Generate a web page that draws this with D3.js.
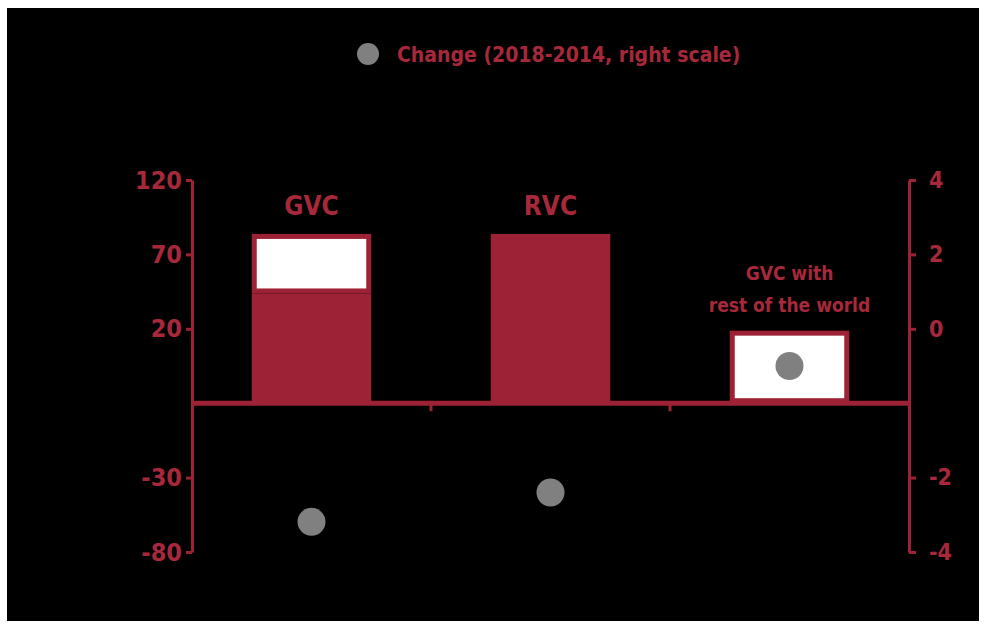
<!DOCTYPE html>
<html>
<head>
<meta charset="utf-8">
<script src="https://cdn.jsdelivr.net/npm/d3@7"></script>
<style>
    body { margin: 0; background: #fff; }
    svg text { font-family: "DejaVu Sans Condensed", "DejaVu Sans", sans-serif; font-weight: bold; }
</style>
</head>
<body>
<div id="chart"></div>
<script>
// chart values
const categories = ["GVC", "RVC", "GVC with|rest of the world"];
const barLower = [59, 91, 0];      // solid red part
const barUpper = [32, 0, 39];      // white part with red outline
const change = [-3.35, -2.72, 0.0]; // right scale
const leftTickLabels = ["120", "70", "20", "-30", "-80"];
const rightTickLabels = ["4", "2", "0", "-2", "-4"];
const legendLabel = "Change (2018-2014, right scale)";

var state = {
    width: 986,
    height: 628,
    red: '#9e2235',
    textRed: '#a8283b',
    dotColor: '#808080',
    left: 192,
    right: 909,
    top: 180,
    bottom: 552
};

let svg = d3.select('#chart')
    .append('svg')
        .attr('width', state.width)
        .attr('height', state.height);

//black panel with the white frame round it
svg.append('rect')
    .attr('x', 7)
    .attr('y', 8)
    .attr('width', 972)
    .attr('height', 613)
    .attr('fill', '#000');

let x = d3.scaleBand()
    .domain(categories)
    .range([state.left, state.right])
    .paddingInner(0.5)
    .paddingOuter(0.25);

let yLeft = d3.scaleLinear().domain([-80, 120]).range([state.bottom, state.top]);
let yRight = d3.scaleLinear().domain([-4, 4]).range([state.bottom, state.top]);

/**
Tick slots split the axis in five equal steps; the slot on the baseline carries no label.
*/
function tickSlots(scale){
    let dom = scale.domain();
    let step = (dom[1] - dom[0]) / 5;
    return d3.range(5, -1, -1)
        .map(i => dom[0] + i * step)
        .filter((v, i) => i !== 3);
}

function styleAxis(g){
    g.select('.domain')
        .attr('stroke', state.red)
        .attr('stroke-width', 3);
    g.selectAll('.tick line')
        .attr('stroke', state.red)
        .attr('stroke-width', 3);
    g.selectAll('.tick text')
        .attr('fill', state.textRed)
        .style('font-size', '25px');
}

let leftAxis = d3.axisLeft(yLeft)
    .tickValues(tickSlots(yLeft))
    .tickFormat((d, i) => leftTickLabels[i])
    .tickSize(6)
    .tickSizeOuter(0)
    .tickPadding(4);

svg.append('g')
    .attr('transform', `translate(${state.left},0)`)
    .call(leftAxis)
    .call(styleAxis);

let rightAxis = d3.axisRight(yRight)
    .tickValues(tickSlots(yRight))
    .tickFormat((d, i) => rightTickLabels[i])
    .tickSize(7)
    .tickSizeOuter(0)
    .tickPadding(13);

svg.append('g')
    .attr('transform', `translate(${state.right},0)`)
    .call(rightAxis)
    .call(styleAxis)
    .selectAll('.tick text')
        .style('font-size', '23px');

//bars
let data = categories.map((c, i) => ({
    cat: c,
    lower: barLower[i],
    upper: barUpper[i],
    change: change[i]
}));

let bars = svg.append('g');

bars.selectAll('.lower')
    .data(data.filter(d => d.lower > 0))
    .enter()
    .append('rect')
        .attr('class', 'lower')
        .attr('x', d => x(d.cat))
        .attr('y', d => yLeft(d.lower))
        .attr('width', x.bandwidth())
        .attr('height', d => yLeft(0) - yLeft(d.lower))
        .attr('fill', state.red);

//white segments with a red outline inside
let inset = 2.5;
bars.selectAll('.upper')
    .data(data.filter(d => d.upper > 0))
    .enter()
    .append('rect')
        .attr('class', 'upper')
        .attr('x', d => x(d.cat) + inset)
        .attr('y', d => yLeft(d.lower + d.upper) + inset)
        .attr('width', x.bandwidth() - inset * 2)
        .attr('height', d => yLeft(d.lower) - yLeft(d.lower + d.upper) - inset * 2)
        .attr('fill', '#fff')
        .attr('stroke', state.red)
        .attr('stroke-width', 5);

//horizontal axis on the baseline
let xAxis = d3.axisBottom(x)
    .tickValues(categories.slice(1))
    .tickFormat('')
    .tickSize(8)
    .tickSizeOuter(0)
    .offset(0);

let xg = svg.append('g')
    .attr('transform', `translate(${-x.step() * x.paddingInner() / 2},${yLeft(0)})`)
    .call(xAxis);
xg.select('.domain').remove();
xg.selectAll('.tick line')
    .attr('x1', -x.bandwidth() / 2).attr('x2', -x.bandwidth() / 2)
    .attr('stroke', state.red)
    .attr('stroke-width', 3);

svg.append('line')
    .attr('x1', state.left)
    .attr('x2', state.right)
    .attr('y1', yLeft(0))
    .attr('y2', yLeft(0))
    .attr('stroke', state.red)
    .attr('stroke-width', 5);

//category labels over the bars
svg.selectAll('.catLabel')
    .data(data)
    .enter()
    .append('text')
        .attr('class', 'catLabel')
        .attr('text-anchor', 'middle')
        .attr('fill', state.textRed)
        .style('font-size', d => d.cat.includes('|') ? '19px' : '26px')
        .each(function(d){
            let lines = d.cat.split('|');
            let base = yLeft(d.lower + d.upper) - 19;
            d3.select(this).selectAll('tspan')
                .data(lines)
                .enter()
                .append('tspan')
                    .attr('x', x(d.cat) + x.bandwidth() / 2)
                    .attr('y', (l, i) => base - (lines.length - 1 - i) * 32)
                    .text(l => l);
        });

//change dots
svg.selectAll('.dot')
    .data(data)
    .enter()
    .append('circle')
        .attr('class', 'dot')
        .attr('cx', d => x(d.cat) + x.bandwidth() / 2)
        .attr('cy', d => yRight(d.change))
        .attr('r', 14)
        .attr('fill', state.dotColor);

//legend
let legend = svg.append('g').attr('transform', 'translate(368,54)');
legend.append('circle')
    .attr('r', 11)
    .attr('fill', state.dotColor);
legend.append('text')
    .attr('x', 29)
    .attr('y', 8)
    .attr('fill', state.textRed)
    .style('font-size', '21px')
    .text(legendLabel);
</script>
</body>
</html>
